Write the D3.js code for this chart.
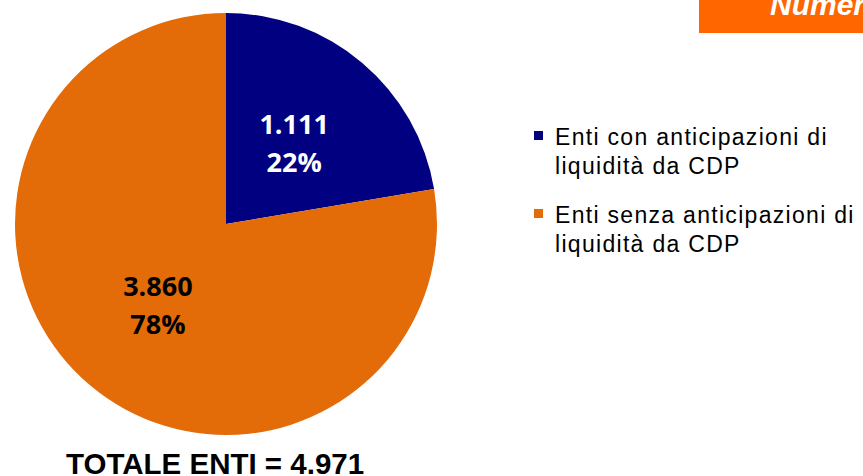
<!DOCTYPE html>
<html lang="it">
<head>
<meta charset="utf-8">
<title>Enti con / senza anticipazioni di liquidità da CDP</title>
<style>
  html, body { margin: 0; padding: 0; background: #fff; }
  svg { display: block; }
</style>
</head>
<body>
<script src="https://cdn.jsdelivr.net/npm/d3@7"></script>
<script>
// data
var categories = ["Enti con anticipazioni di liquidità da CDP",
                  "Enti senza anticipazioni di liquidità da CDP"];
var legendLines = [["Enti con anticipazioni di", "liquidità da CDP"],
                   ["Enti senza anticipazioni di", "liquidità da CDP"]];
var values = [1111, 3860];
var colors = ["#000080", "#E36C09"];
var labelColors = ["#ffffff", "#000000"];
var headerText = "Numero enti";

var w = 863, h = 476;
var cx = 226, cy = 224, r = 211;

var it = d3.formatLocale({decimal: ",", thousands: ".", grouping: [3], currency: ["€", ""]});
var fmtNum = it.format(",d");
var total = d3.sum(values);

var svg = d3.select("body").append("svg")
    .attr("width", w).attr("height", h)
    .attr("viewBox", "0 0 " + w + " " + h);

// orange header box, cut by the page edge
svg.append("rect")
    .attr("x", 699).attr("y", 0)
    .attr("width", w - 699).attr("height", 33)
    .attr("fill", "#FF6600");
svg.append("text")
    .attr("x", 770).attr("y", 15)
    .attr("font-family", "Liberation Sans, Arial, sans-serif")
    .attr("font-size", 30)
    .attr("font-weight", "bold")
    .attr("font-style", "italic")
    .attr("fill", "#ffffff")
    .text(headerText);

// pie
var pie = d3.pie().sort(null).value(function(d) { return d; });
var arc = d3.arc().innerRadius(0).outerRadius(r);
var arcs = pie(values);

var g = svg.append("g").attr("transform", "translate(" + cx + "," + cy + ")");

g.selectAll("path.slice")
    .data(arcs)
    .enter().append("path")
    .attr("class", "slice")
    .attr("d", arc)
    .attr("fill", function(d, i) { return colors[i]; });

var labels = g.selectAll("text.lbl")
    .data(arcs)
    .enter().append("text")
    .attr("class", "lbl")
    .attr("text-anchor", "middle")
    .attr("font-family", "Open Sans, sans-serif")
    .attr("font-weight", "bold")
    .attr("font-size", 27)
    .attr("fill", function(d, i) { return labelColors[i]; })
    .attr("transform", function(d) {
        var c = arc.centroid(d);
        return "translate(" + c[0] + "," + c[1] + ")";
    });

labels.append("tspan")
    .attr("x", 0).attr("y", -9)
    .text(function(d) { return fmtNum(d.value); });
labels.append("tspan")
    .attr("x", 0).attr("y", 29)
    .text(function(d) { return Math.round(d.value / total * 100) + "%"; });

// legend
var legend = svg.append("g").attr("transform", "translate(534,0)");
var items = legend.selectAll("g.item")
    .data(categories)
    .enter().append("g")
    .attr("class", "item")
    .attr("transform", function(d, i) { return "translate(0," + (145 + i * 78) + ")"; });

items.append("rect")
    .attr("x", 0).attr("y", -14)
    .attr("width", 9).attr("height", 9)
    .attr("fill", function(d, i) { return colors[i]; });

items.each(function(d, i) {
    var t = d3.select(this).append("text")
        .attr("font-family", "Liberation Sans, Arial, sans-serif")
        .attr("font-size", 23)
        .attr("letter-spacing", 1.3)
        .attr("fill", "#000");
    legendLines[i].forEach(function(line, k) {
        t.append("tspan").attr("x", 21).attr("y", k * 29).text(line);
    });
});

// total
svg.append("text")
    .attr("x", 66).attr("y", 474)
    .attr("font-family", "Liberation Sans, Arial, sans-serif")
    .attr("font-weight", "bold")
    .attr("font-size", 29.5)
    .attr("fill", "#000")
    .text("TOTALE ENTI = " + fmtNum(total));
</script>
</body>
</html>
